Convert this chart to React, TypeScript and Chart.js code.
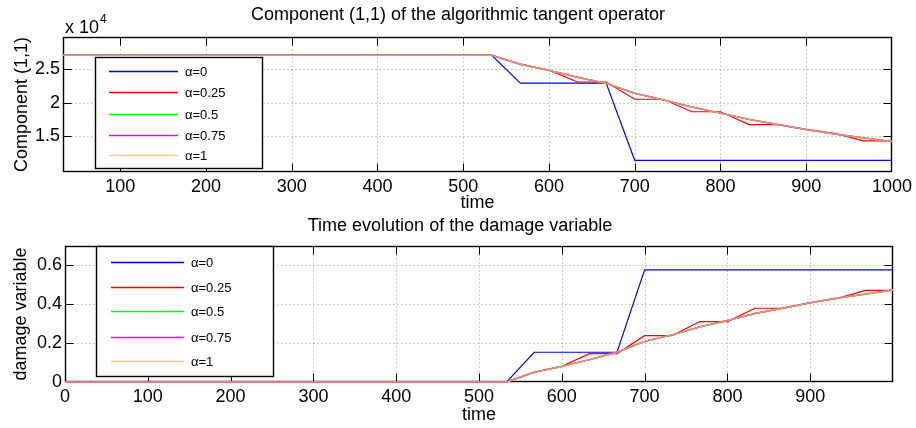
import React, { useEffect, useRef } from "react";
import { Chart, registerables } from "chart.js";

Chart.register(...registerables);

const FONT = '"Liberation Sans", Arial, Helvetica, sans-serif';

// ---------- data ----------
const timeTangent = [
  33.33, 66.67, 100, 133.33, 166.67, 200, 233.33, 266.67, 300, 333.33,
  366.67, 400, 433.33, 466.67, 500, 533.33, 566.67, 600, 633.33, 666.67,
  700, 733.33, 766.67, 800, 833.33, 866.67, 900, 933.33, 966.67, 1000,
];
const timeDamage = [
  0, 33.33, 66.67, 100, 133.33, 166.67, 200, 233.33, 266.67, 300, 333.33,
  366.67, 400, 433.33, 466.67, 500, 533.33, 566.67, 600, 633.33, 666.67,
  700, 733.33, 766.67, 800, 833.33, 866.67, 900, 933.33, 966.67, 1000,
];

const seriesLabels = ["α=0", "α=0.25", "α=0.5", "α=0.75", "α=1"];
// colours of the legend samples
const seriesColors = ["#0000ff", "#ff0000", "#00ff00", "#ff00ff", "#ffc890"];
// colours of the plotted lines (overlapping lines blend in the original)
const lineColors = ["#0000ff", "#ff0000", "#00ff00", "#ff00ff", "#e3966c"];
const seriesWidths = [1.2, 1.2, 1.4, 1.4, 1.6];

// Component (1,1) of the algorithmic tangent operator
const tangentA0 = [
  27000, 27000, 27000, 27000, 27000, 27000, 27000, 27000, 27000, 27000,
  27000, 27000, 27000, 27000, 27000, 27000, 22880, 22880, 22880, 22880,
  11480, 11480, 11480, 11480, 11480, 11480, 11480, 11480, 11480, 11480,
];
const tangentA025 = [
  27000, 27000, 27000, 27000, 27000, 27000, 27000, 27000, 27000, 27000,
  27000, 27000, 27000, 27000, 27000, 27000, 25700, 24800, 23050, 23050,
  20500, 20500, 18650, 18650, 16750, 16750, 16050, 15450, 14350, 14350,
];
const tangentA05 = [
  27000, 27000, 27000, 27000, 27000, 27000, 27000, 27000, 27000, 27000,
  27000, 27000, 27000, 27000, 27000, 27000, 25670, 24770, 23760, 22850,
  21390, 20400, 19350, 18460, 17520, 16760, 16030, 15360, 14790, 14260,
];
const tangentA075 = [
  27000, 27000, 27000, 27000, 27000, 27000, 27000, 27000, 27000, 27000,
  27000, 27000, 27000, 27000, 27000, 27000, 25670, 24770, 23760, 22850,
  21390, 20400, 19350, 18460, 17520, 16760, 16030, 15360, 14790, 14260,
];
const tangentA1 = [
  27000, 27000, 27000, 27000, 27000, 27000, 27000, 27000, 27000, 27000,
  27000, 27000, 27000, 27000, 27000, 27000, 25670, 24770, 23760, 22850,
  21390, 20400, 19350, 18460, 17520, 16760, 16030, 15360, 14790, 14260,
];

// Damage variable
const damageA0 = [
  0, 0, 0, 0, 0, 0, 0, 0, 0, 0, 0, 0, 0, 0, 0, 0, 0,
  0.152, 0.152, 0.152, 0.152, 0.573, 0.573, 0.573, 0.573, 0.573, 0.573,
  0.573, 0.573, 0.573, 0.573,
];
const damageA025 = [
  0, 0, 0, 0, 0, 0, 0, 0, 0, 0, 0, 0, 0, 0, 0, 0, 0,
  0.05, 0.08, 0.145, 0.145, 0.237, 0.237, 0.309, 0.309, 0.377, 0.377,
  0.405, 0.427, 0.468, 0.468,
];
const damageA05 = [
  0, 0, 0, 0, 0, 0, 0, 0, 0, 0, 0, 0, 0, 0, 0, 0, 0,
  0.05, 0.08, 0.114, 0.152, 0.208, 0.241, 0.282, 0.314, 0.35, 0.377,
  0.405, 0.429, 0.449, 0.47,
];
const damageA075 = [
  0, 0, 0, 0, 0, 0, 0, 0, 0, 0, 0, 0, 0, 0, 0, 0, 0,
  0.05, 0.08, 0.114, 0.152, 0.208, 0.241, 0.282, 0.314, 0.35, 0.377,
  0.405, 0.429, 0.449, 0.47,
];
const damageA1 = [
  0, 0, 0, 0, 0, 0, 0, 0, 0, 0, 0, 0, 0, 0, 0, 0, 0,
  0.05, 0.08, 0.114, 0.152, 0.208, 0.241, 0.282, 0.314, 0.35, 0.377,
  0.405, 0.429, 0.449, 0.47,
];

// ticks
const tangentXTicks = [100, 200, 300, 400, 500, 600, 700, 800, 900, 1000];
const tangentYTicks = [15000, 20000, 25000];
const damageXTicks = [0, 100, 200, 300, 400, 500, 600, 700, 800, 900];
const damageYTicks = [0, 0.2, 0.4, 0.6];

const W = 916;

type PanelCfg = {
  height: number;
  area: { left: number; top: number; right: number; bottom: number };
  xMin: number;
  xMax: number;
  yMin: number;
  yMax: number;
  xTicks: number[];
  yTicks: number[];
  yFormat: (v: number) => string;
  title: string;
  titleX: number;
  titleY: number;
  xTitleY: number;
  yTitle: string;
  yTitleX: number;
  legend: { left: number; top: number; right: number; bottom: number; rows: number[]; lineX0: number; lineX1: number; textX: number };
  exponent?: boolean;
  clipLines: boolean;
};

function makePlugin(cfg: PanelCfg) {
  return {
    id: "matlabFrame",
    beforeDatasetsDraw(chart: any) {
      const ctx = chart.ctx as CanvasRenderingContext2D;
      const a = chart.chartArea;
      const xs = chart.scales.x;
      const ys = chart.scales.y;
      const L = Math.round(a.left) + 0.5;
      const R = Math.round(a.right) - 0.5;
      const T = Math.round(a.top) + 0.5;
      const B = Math.round(a.bottom) - 0.5;
      ctx.save();
      // dotted grid
      ctx.strokeStyle = "#9a9a9a";
      ctx.lineWidth = 1;
      ctx.setLineDash([1, 3]);
      for (const v of cfg.xTicks) {
        const px = Math.round(xs.getPixelForValue(v)) + 0.5;
        if (px <= L + 1 || px >= R - 1) continue;
        ctx.beginPath();
        ctx.moveTo(px, T);
        ctx.lineTo(px, B);
        ctx.stroke();
      }
      for (const v of cfg.yTicks) {
        const py = Math.round(ys.getPixelForValue(v)) + 0.5;
        if (py <= T + 1 || py >= B - 1) continue;
        ctx.beginPath();
        ctx.moveTo(L, py);
        ctx.lineTo(R, py);
        ctx.stroke();
      }
      ctx.setLineDash([]);
      // frame
      ctx.strokeStyle = "#000";
      ctx.lineWidth = 1.4;
      ctx.strokeRect(L, T, R - L, B - T);
      // inward tick marks
      ctx.lineWidth = 1;
      const tl = 8;
      for (const v of cfg.xTicks) {
        const px = Math.round(xs.getPixelForValue(v)) + 0.5;
        if (px <= L + 1 || px >= R - 1) continue;
        ctx.beginPath();
        ctx.moveTo(px, B);
        ctx.lineTo(px, B - tl);
        ctx.moveTo(px, T);
        ctx.lineTo(px, T + tl);
        ctx.stroke();
      }
      for (const v of cfg.yTicks) {
        const py = Math.round(ys.getPixelForValue(v)) + 0.5;
        if (py <= T + 1 || py >= B - 1) continue;
        ctx.beginPath();
        ctx.moveTo(L, py);
        ctx.lineTo(L + tl, py);
        ctx.moveTo(R, py);
        ctx.lineTo(R - tl, py);
        ctx.stroke();
      }
      ctx.restore();
    },
    afterDatasetsDraw(chart: any) {
      const ctx = chart.ctx as CanvasRenderingContext2D;
      const a = chart.chartArea;
      const lg = cfg.legend;
      ctx.save();
      // legend box
      ctx.fillStyle = "#fff";
      ctx.fillRect(lg.left, lg.top, lg.right - lg.left, lg.bottom - lg.top);
      ctx.strokeStyle = "#000";
      ctx.lineWidth = 1.4;
      ctx.strokeRect(lg.left + 0.5, lg.top + 0.5, lg.right - lg.left, lg.bottom - lg.top);
      ctx.font = `13px ${FONT}`;
      ctx.textAlign = "left";
      ctx.textBaseline = "middle";
      seriesLabels.forEach((lab, i) => {
        const y = lg.rows[i] + 0.5;
        ctx.strokeStyle = seriesColors[i];
        ctx.lineWidth = 1.3;
        ctx.beginPath();
        ctx.moveTo(lg.lineX0, y);
        ctx.lineTo(lg.lineX1, y);
        ctx.stroke();
        ctx.fillStyle = "#000";
        ctx.fillText(lab, lg.textX, y + 1);
      });
      // titles
      ctx.fillStyle = "#000";
      ctx.font = `18px ${FONT}`;
      ctx.textAlign = "center";
      ctx.textBaseline = "middle";
      ctx.fillText(cfg.title, cfg.titleX, cfg.titleY);
      ctx.fillText("time", (a.left + a.right) / 2, cfg.xTitleY);
      ctx.save();
      ctx.translate(cfg.yTitleX, (a.top + a.bottom) / 2);
      ctx.rotate(-Math.PI / 2);
      ctx.fillText(cfg.yTitle, 0, 0);
      ctx.restore();
      if (cfg.exponent) {
        ctx.textAlign = "left";
        ctx.font = `18px ${FONT}`;
        ctx.fillText("x 10", 65, 28);
        const w = ctx.measureText("x 10").width;
        ctx.font = `12px ${FONT}`;
        ctx.fillText("4", 65 + w + 1, 20);
      }
      ctx.restore();
    },
  };
}

function buildDatasets(times: number[], series: number[][], clip: boolean) {
  return series.map((vals, i) => ({
    label: seriesLabels[i],
    data: times.map((t, k) => ({ x: t, y: vals[k] })),
    borderColor: lineColors[i],
    backgroundColor: lineColors[i],
    borderWidth: seriesWidths[i],
    pointRadius: 0,
    tension: 0,
    fill: false,
    order: series.length - 1 - i,
    clip: clip ? undefined : false,
  }));
}

function Panel({ cfg, datasets }: { cfg: PanelCfg; datasets: any[] }) {
  const ref = useRef<HTMLCanvasElement | null>(null);
  useEffect(() => {
    if (!ref.current) return;
    const a = cfg.area;
    const chart = new Chart(ref.current, {
      type: "line",
      data: { datasets },
      options: {
        responsive: false,
        animation: false,
        devicePixelRatio: 1,
        layout: {
          padding: { left: 0, top: a.top, right: W - a.right, bottom: 0 },
        },
        plugins: {
          legend: { display: false },
          title: { display: false },
          tooltip: { enabled: false },
        },
        scales: {
          x: {
            type: "linear",
            min: cfg.xMin,
            max: cfg.xMax,
            grid: { display: false, drawTicks: false },
            border: { display: false },
            afterBuildTicks: (s: any) => {
              s.ticks = cfg.xTicks.map((v) => ({ value: v }));
            },
            afterFit: (s: any) => {
              s.height = cfg.height - a.bottom;
            },
            ticks: {
              color: "#000",
              font: { family: FONT, size: 18 },
              padding: 4,
              maxRotation: 0,
              autoSkip: false,
              callback: (v: any) => String(v),
            },
          },
          y: {
            type: "linear",
            min: cfg.yMin,
            max: cfg.yMax,
            grid: { display: false, drawTicks: false },
            border: { display: false },
            afterBuildTicks: (s: any) => {
              s.ticks = cfg.yTicks.map((v) => ({ value: v }));
            },
            afterFit: (s: any) => {
              s.width = a.left;
            },
            ticks: {
              color: "#000",
              font: { family: FONT, size: 18 },
              padding: 3,
              autoSkip: false,
              callback: (v: any) => cfg.yFormat(Number(v)),
            },
          },
        },
      },
      plugins: [makePlugin(cfg)],
    } as any);
    return () => chart.destroy();
  }, []);
  return (
    <canvas
      ref={ref}
      width={W}
      height={cfg.height}
      style={{ display: "block", width: W, height: cfg.height }}
    />
  );
}

const topCfg: PanelCfg = {
  height: 215,
  area: { left: 63, top: 37, right: 894, bottom: 172 },
  xMin: 33.33,
  xMax: 1000,
  yMin: 9750,
  yMax: 29700,
  xTicks: tangentXTicks,
  yTicks: tangentYTicks,
  yFormat: (v) => String(v / 10000),
  title: "Component (1,1) of the algorithmic tangent operator",
  titleX: 458,
  titleY: 15,
  xTitleY: 203,
  yTitle: "Component (1,1)",
  yTitleX: 22,
  legend: { left: 95, top: 57, right: 262, bottom: 168, rows: [71, 92, 114, 135, 155], lineX0: 109, lineX1: 178, textX: 185 },
  exponent: true,
  clipLines: true,
};

const bottomCfg: PanelCfg = {
  height: 213,
  area: { left: 65, top: 31, right: 893, bottom: 167 },
  xMin: 0,
  xMax: 1000,
  yMin: 0,
  yMax: 0.695,
  xTicks: damageXTicks,
  yTicks: damageYTicks,
  yFormat: (v) => String(v),
  title: "Time evolution of the damage variable",
  titleX: 460,
  titleY: 11,
  xTitleY: 200,
  yTitle: "damage variable",
  yTitleX: 21,
  legend: { left: 96, top: 31, right: 273, bottom: 161, rows: [47, 72, 96, 122, 146], lineX0: 111, lineX1: 184, textX: 191 },
  clipLines: false,
};

export default function App() {
  const topSets = buildDatasets(timeTangent, [tangentA0, tangentA025, tangentA05, tangentA075, tangentA1], true);
  const bottomSets = buildDatasets(timeDamage, [damageA0, damageA025, damageA05, damageA075, damageA1], false);
  return (
    <div style={{ position: "absolute", left: 0, top: 0, width: W, height: 428, background: "#fff" }}>
      <Panel cfg={topCfg} datasets={topSets} />
      <Panel cfg={bottomCfg} datasets={bottomSets} />
    </div>
  );
}
